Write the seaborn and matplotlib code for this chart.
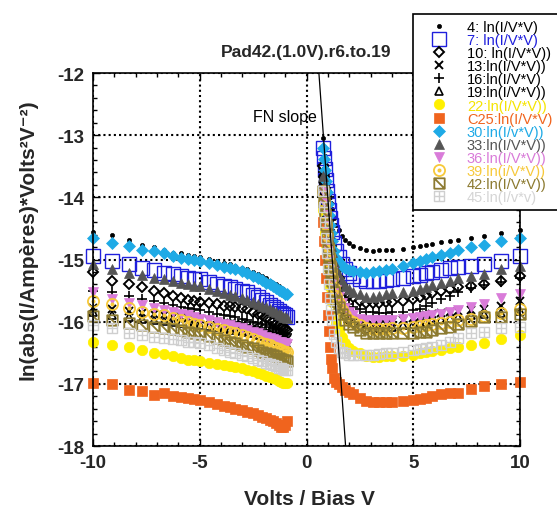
import matplotlib
matplotlib.use("Agg")
import matplotlib.pyplot as plt
from matplotlib.path import Path
from matplotlib.ticker import MultipleLocator
import seaborn as sns

# bias sweep (V), negative and positive branch
volts_neg = [-10.0, -9.09, -8.33, -7.69, -7.14, -6.67, -6.25, -5.88, -5.56, -5.26,
             -5.0, -4.55, -4.17, -3.85, -3.57, -3.33, -3.03, -2.78, -2.5, -2.27,
             -2.08, -1.89, -1.72, -1.56, -1.43, -1.3, -1.18, -1.08, -1.0, -0.91]
volts_pos = [0.75, 0.8, 0.85, 0.9, 0.95, 1.0, 1.05, 1.1, 1.15, 1.2, 1.3, 1.4, 1.5,
             1.65, 1.8, 2.0, 2.2, 2.5, 2.8, 3.1, 3.4, 3.7, 4.0, 4.5, 5.0, 5.3, 5.6,
             5.9, 6.3, 6.7, 7.1, 7.7, 8.3, 9.1, 10.0]

# ln(|I|/V^2) per run
s4_neg = [-14.55, -14.6, -14.68, -14.76, -14.8, -14.85, -14.89, -14.9, -14.92, -14.94,
          -14.96, -14.99, -15.02, -15.05, -15.08, -15.1, -15.13, -15.16, -15.2, -15.24,
          -15.27, -15.3, -15.34, -15.37, -15.4, -15.43, -15.46, -15.48, -15.5, -15.52]
s4_pos = [-13.05, -13.19, -13.34, -13.48, -13.63, -13.77, -13.90, -14.00, -14.09, -14.18,
          -14.33, -14.44, -14.53, -14.62, -14.69, -14.74, -14.78, -14.81, -14.85, -14.86,
          -14.85, -14.85, -14.84, -14.83, -14.80, -14.79, -14.77, -14.75, -14.72, -14.70,
          -14.68, -14.65, -14.62, -14.58, -14.52]

s7_neg = [-14.95, -15.03, -15.08, -15.13, -15.17, -15.21, -15.24, -15.27, -15.3, -15.31,
          -15.32, -15.36, -15.4, -15.43, -15.45, -15.47, -15.5, -15.53, -15.57, -15.61,
          -15.65, -15.69, -15.73, -15.77, -15.8, -15.83, -15.86, -15.88, -15.9, -15.92]
s7_pos = [-13.20, -13.37, -13.54, -13.72, -13.89, -14.06, -14.21, -14.34, -14.45, -14.55,
          -14.73, -14.86, -14.96, -15.07, -15.16, -15.22, -15.26, -15.31, -15.35, -15.35,
          -15.34, -15.33, -15.32, -15.30, -15.27, -15.25, -15.22, -15.20, -15.17, -15.14,
          -15.12, -15.10, -15.07, -15.03, -14.95]

s10_neg = [-15.2, -15.34, -15.39, -15.45, -15.5, -15.54, -15.58, -15.62, -15.65, -15.67,
           -15.68, -15.7, -15.72, -15.74, -15.75, -15.76, -15.78, -15.8, -15.84, -15.87,
           -15.9, -15.94, -15.97, -16.0, -16.03, -16.05, -16.08, -16.1, -16.12, -16.14]
s10_pos = [-13.50, -13.68, -13.85, -14.03, -14.20, -14.38, -14.53, -14.67, -14.78, -14.89,
           -15.06, -15.19, -15.30, -15.41, -15.50, -15.57, -15.61, -15.66, -15.70, -15.70,
           -15.70, -15.69, -15.68, -15.66, -15.63, -15.60, -15.57, -15.54, -15.50, -15.47,
           -15.45, -15.42, -15.39, -15.35, -15.27]

s13_neg = [-15.78, -15.8, -15.83, -15.86, -15.88, -15.9, -15.92, -15.93, -15.94, -15.95,
           -15.96, -15.98, -16.0, -16.02, -16.03, -16.04, -16.06, -16.08, -16.1, -16.12,
           -16.14, -16.16, -16.18, -16.2, -16.21, -16.23, -16.25, -16.26, -16.27, -16.28]
s13_pos = [-13.60, -13.80, -13.99, -14.19, -14.38, -14.58, -14.75, -14.90, -15.02, -15.14,
           -15.34, -15.49, -15.61, -15.73, -15.83, -15.90, -15.95, -16.00, -16.05, -16.06,
           -16.05, -16.03, -16.00, -15.97, -15.94, -15.92, -15.90, -15.88, -15.86, -15.84,
           -15.83, -15.81, -15.79, -15.74, -15.67]

s16_neg = [-15.5, -15.52, -15.58, -15.63, -15.67, -15.7, -15.73, -15.76, -15.78, -15.8,
           -15.82, -15.85, -15.87, -15.89, -15.91, -15.93, -15.95, -15.97, -16.0, -16.02,
           -16.04, -16.06, -16.08, -16.1, -16.12, -16.14, -16.16, -16.18, -16.19, -16.2]
s16_pos = [-13.60, -13.78, -13.96, -14.14, -14.32, -14.50, -14.66, -14.79, -14.91, -15.02,
           -15.20, -15.33, -15.45, -15.56, -15.65, -15.72, -15.76, -15.80, -15.84, -15.85,
           -15.86, -15.86, -15.85, -15.84, -15.82, -15.80, -15.75, -15.70, -15.64, -15.58,
           -15.52, -15.46, -15.41, -15.36, -15.30]

s19_neg = [-15.84, -15.89, -15.92, -15.95, -15.97, -15.99, -16.0, -16.02, -16.03, -16.04,
           -16.05, -16.07, -16.09, -16.1, -16.12, -16.13, -16.15, -16.17, -16.19, -16.21,
           -16.23, -16.25, -16.27, -16.29, -16.3, -16.32, -16.34, -16.35, -16.36, -16.37]
s19_pos = [-13.70, -13.89, -14.09, -14.28, -14.47, -14.67, -14.84, -14.98, -15.10, -15.22,
           -15.42, -15.56, -15.68, -15.81, -15.90, -15.97, -16.02, -16.07, -16.12, -16.12,
           -16.11, -16.10, -16.08, -16.06, -16.04, -16.02, -16.00, -15.98, -15.96, -15.94,
           -15.92, -15.90, -15.88, -15.86, -15.83]

s22_neg = [-16.32, -16.37, -16.41, -16.45, -16.5, -16.52, -16.56, -16.58, -16.61, -16.62,
           -16.63, -16.66, -16.68, -16.7, -16.72, -16.73, -16.75, -16.77, -16.8, -16.82,
           -16.84, -16.87, -16.89, -16.91, -16.93, -16.95, -16.97, -16.98, -16.99, -16.98]
s22_pos = [-14.20, -14.39, -14.58, -14.77, -14.96, -15.14, -15.31, -15.45, -15.57, -15.69,
           -15.88, -16.02, -16.14, -16.25, -16.35, -16.42, -16.47, -16.51, -16.56, -16.57,
           -16.57, -16.56, -16.56, -16.55, -16.53, -16.51, -16.49, -16.47, -16.45, -16.43,
           -16.41, -16.38, -16.34, -16.28, -16.22]

s25_neg = [-16.98, -17.01, -17.1, -17.11, -17.18, -17.15, -17.2, -17.21, -17.23, -17.25,
           -17.26, -17.3, -17.33, -17.36, -17.38, -17.4, -17.42, -17.45, -17.47, -17.5,
           -17.53, -17.55, -17.58, -17.6, -17.63, -17.66, -17.69, -17.7, -17.66, -17.6]
s25_pos = [-14.40, -14.70, -15.00, -15.30, -15.60, -15.90, -16.15, -16.40, -16.60, -16.75,
           -16.90, -16.97, -17.00, -17.05, -17.10, -17.13, -17.16, -17.22, -17.28, -17.30,
           -17.30, -17.30, -17.29, -17.28, -17.26, -17.24, -17.22, -17.20, -17.17, -17.15,
           -17.14, -17.08, -17.04, -17.00, -16.97]

s30_neg = [-14.65, -14.73, -14.79, -14.84, -14.87, -14.9, -14.94, -14.97, -14.99, -15.01,
           -15.03, -15.06, -15.09, -15.12, -15.14, -15.16, -15.19, -15.22, -15.26, -15.3,
           -15.33, -15.37, -15.4, -15.43, -15.46, -15.49, -15.51, -15.53, -15.55, -15.56]
s30_pos = [-13.20, -13.38, -13.56, -13.74, -13.92, -14.10, -14.28, -14.44, -14.58, -14.70,
           -14.86, -14.97, -15.04, -15.10, -15.14, -15.17, -15.19, -15.20, -15.21, -15.20,
           -15.19, -15.17, -15.15, -15.10, -15.05, -15.02, -14.99, -14.96, -14.93, -14.90,
           -14.85, -14.80, -14.76, -14.70, -14.66]

s33_neg = [-15.08, -15.16, -15.21, -15.25, -15.29, -15.32, -15.35, -15.38, -15.4, -15.42,
           -15.43, -15.47, -15.51, -15.54, -15.57, -15.59, -15.62, -15.65, -15.68, -15.71,
           -15.74, -15.77, -15.8, -15.83, -15.85, -15.88, -15.9, -15.92, -15.93, -15.94]
s33_pos = [-13.66, -13.82, -13.97, -14.13, -14.28, -14.44, -14.57, -14.69, -14.79, -14.88,
           -15.04, -15.15, -15.25, -15.35, -15.43, -15.48, -15.52, -15.56, -15.60, -15.60,
           -15.58, -15.56, -15.54, -15.52, -15.50, -15.47, -15.44, -15.41, -15.37, -15.34,
           -15.30, -15.26, -15.23, -15.16, -15.10]

s36_neg = [-15.53, -15.63, -15.7, -15.73, -15.78, -15.81, -15.84, -15.87, -15.89, -15.92,
           -15.95, -15.98, -16.01, -16.04, -16.06, -16.08, -16.1, -16.13, -16.16, -16.19,
           -16.21, -16.24, -16.26, -16.28, -16.3, -16.32, -16.33, -16.34, -16.35, -16.36]
s36_pos = [-13.90, -14.07, -14.23, -14.40, -14.56, -14.73, -14.87, -15.00, -15.10, -15.20,
           -15.37, -15.49, -15.60, -15.70, -15.78, -15.85, -15.90, -15.95, -15.97, -15.98,
           -15.98, -15.97, -15.97, -15.96, -15.94, -15.93, -15.91, -15.89, -15.87, -15.84,
           -15.82, -15.77, -15.72, -15.62, -15.56]

s39_neg = [-15.67, -15.72, -15.78, -15.84, -15.87, -15.9, -15.94, -15.97, -16.0, -16.03,
           -16.05, -16.08, -16.11, -16.14, -16.17, -16.19, -16.22, -16.25, -16.28, -16.31,
           -16.34, -16.36, -16.38, -16.4, -16.42, -16.44, -16.46, -16.47, -16.48, -16.49]
s39_pos = [-13.90, -14.08, -14.25, -14.43, -14.60, -14.78, -14.93, -15.07, -15.18, -15.29,
           -15.46, -15.59, -15.70, -15.81, -15.90, -15.97, -16.01, -16.06, -16.10, -16.11,
           -16.11, -16.11, -16.10, -16.10, -16.09, -16.07, -16.06, -16.04, -16.02, -16.00,
           -15.97, -15.95, -15.91, -15.86, -15.80]

s42_neg = [-15.91, -15.97, -16.02, -16.05, -16.08, -16.1, -16.12, -16.14, -16.16, -16.18,
           -16.2, -16.23, -16.26, -16.29, -16.32, -16.34, -16.37, -16.4, -16.43, -16.46,
           -16.48, -16.5, -16.52, -16.54, -16.56, -16.58, -16.6, -16.61, -16.62, -16.63]
s42_pos = [-13.90, -14.08, -14.26, -14.45, -14.63, -14.81, -14.97, -15.11, -15.22, -15.34,
           -15.52, -15.66, -15.77, -15.88, -15.97, -16.04, -16.09, -16.13, -16.18, -16.19,
           -16.19, -16.19, -16.19, -16.18, -16.18, -16.17, -16.16, -16.14, -16.10, -16.08,
           -16.03, -15.99, -15.93, -15.92, -15.88]

s45_neg = [-16.05, -16.1, -16.18, -16.21, -16.24, -16.26, -16.28, -16.3, -16.32, -16.33,
           -16.34, -16.38, -16.42, -16.45, -16.48, -16.5, -16.53, -16.56, -16.59, -16.62,
           -16.64, -16.66, -16.68, -16.7, -16.72, -16.74, -16.75, -16.76, -16.77, -16.78]
s45_pos = [-13.90, -14.15, -14.40, -14.65, -14.90, -15.15, -15.40, -15.62, -15.82, -15.98,
           -16.20, -16.33, -16.42, -16.48, -16.51, -16.53, -16.54, -16.54, -16.53, -16.53,
           -16.52, -16.51, -16.50, -16.48, -16.46, -16.44, -16.42, -16.40, -16.37, -16.33,
           -16.26, -16.19, -16.17, -16.10, -16.08]

labels = ["4: ln(I/V*V)", "7: ln(I/V*V)", "10: ln(I/V*V))", "13:ln(I/V*V))",
          "16:ln(I/V*V)", "19:ln(I/V*V))", "22:ln(I/V*V))", "C25:ln(I/V*V)",
          "30:ln(I/v*V))", "33:ln(I/V*V))", "36:ln(I/V*V))", "39:ln(i/V*V))",
          "42:ln(I/V*V))", "45:ln(I/v*v)"]
neg_vals = [s4_neg, s7_neg, s10_neg, s13_neg, s16_neg, s19_neg, s22_neg, s25_neg,
            s30_neg, s33_neg, s36_neg, s39_neg, s42_neg, s45_neg]
pos_vals = [s4_pos, s7_pos, s10_pos, s13_pos, s16_pos, s19_pos, s22_pos, s25_pos,
            s30_pos, s33_pos, s36_pos, s39_pos, s42_pos, s45_pos]

# FN slope guide line
fn_x = [0.58, 1.83]
fn_y = [-12.0, -18.0]

# custom markers
circ_dot = Path.make_compound_path(Path.unit_circle(), Path.circle((0, 0), 0.2))
box_diag = Path([(-1, -1), (1, -1), (1, 1), (-1, 1), (-1, -1), (-1, 1), (1, -1)],
                [Path.MOVETO, Path.LINETO, Path.LINETO, Path.LINETO, Path.CLOSEPOLY,
                 Path.MOVETO, Path.LINETO])
box_plus = Path([(-1, -1), (1, -1), (1, 1), (-1, 1), (-1, -1), (-1, 0), (1, 0), (0, -1), (0, 1)],
                [Path.MOVETO, Path.LINETO, Path.LINETO, Path.LINETO, Path.CLOSEPOLY,
                 Path.MOVETO, Path.LINETO, Path.MOVETO, Path.LINETO])

text_colors = ["black", "#1f1fdc", "black", "black", "black", "black", "#f5e400",
               "#f0641e", "#1eaae6", "#555555", "#d97bd9", "#f7c93a", "#8c7a30", "#d5d5d5"]
styles = [
    dict(marker="o", ms=3, mfc="black", mec="black", mew=0.5),
    dict(marker="s", ms=9.5, mfc="none", mec="#1f1fdc", mew=1.0),
    dict(marker="D", ms=5, mfc="none", mec="black", mew=1.4),
    dict(marker="x", ms=6, mec="black", mew=1.4),
    dict(marker="+", ms=7, mec="black", mew=1.2),
    dict(marker="^", ms=6, mfc="none", mec="black", mew=1.2),
    dict(marker="o", ms=7.5, mfc="#fff000", mec="#fff000", mew=0.5),
    dict(marker="s", ms=6.5, mfc="#f0641e", mec="#f0641e", mew=0.5),
    dict(marker="D", ms=6, mfc="#1eaae6", mec="#1eaae6", mew=0.5),
    dict(marker="^", ms=7.5, mfc="#555555", mec="#555555", mew=0.5),
    dict(marker="v", ms=7.5, mfc="#d97bd9", mec="#d97bd9", mew=0.5),
    dict(marker=circ_dot, ms=8, mfc="none", mec="#f7c93a", mew=1.3),
    dict(marker=box_diag, ms=7.5, mfc="none", mec="#8c7a30", mew=1.3),
    dict(marker=box_plus, ms=7.5, mfc="none", mec="#cfcfcf", mew=1.0),
]

sns.set_theme(style="ticks")
plt.rcParams["font.family"] = ["Liberation Sans", "DejaVu Sans"]
plt.rcParams["axes.unicode_minus"] = False

fig = plt.figure(figsize=(5.57, 5.10), dpi=100)
ax = fig.add_axes([0.167, 0.1235, 0.7666, 0.7314])

for label, yn, yp, st in zip(labels, neg_vals, pos_vals, styles):
    sns.lineplot(x=volts_neg + volts_pos, y=yn + yp, ax=ax, label=label,
                 linestyle="", estimator=None, sort=False, clip_on=False, **st)

handles, hlabels = ax.get_legend_handles_labels()

sns.lineplot(x=fn_x, y=fn_y, ax=ax, color="black", lw=0.9, estimator=None, sort=False)

ax.set_xlim(-10, 10)
ax.set_ylim(-18, -12)
ax.xaxis.set_major_locator(MultipleLocator(5))
ax.xaxis.set_minor_locator(MultipleLocator(1))
ax.yaxis.set_major_locator(MultipleLocator(1))
ax.yaxis.set_minor_locator(MultipleLocator(0.2))
ax.tick_params(which="both", direction="in", top=True, right=True, width=1.0,
               color="black", labelsize=13.5, pad=6)
ax.tick_params(which="major", length=5)
ax.tick_params(which="minor", length=3)
for t in ax.get_xticklabels() + ax.get_yticklabels():
    t.set_fontweight("bold")
for sp in ax.spines.values():
    sp.set_linewidth(1.2)
    sp.set_color("black")

ax.grid(True, which="major", color="black", linestyle=(0, (1, 1.5)), lw=1.5)
ax.set_axisbelow(True)

ax.set_title("Pad42.(1.0V).r6.to.19", fontsize=12.5, fontweight="bold", pad=12)
ax.set_xlabel("Volts / Bias V", fontsize=15, fontweight="bold")
ax.xaxis.set_label_coords(0.508, -0.115)
ax.set_ylabel("ln(abs(I/Ampères)*Volts²V⁻²)", fontsize=15, fontweight="bold")
ax.yaxis.set_label_coords(-0.129, 0.555)
ax.text(-2.5, -12.77, "FN slope", fontsize=11.5, color="black")

leg = ax.legend(handles, hlabels, loc="upper left", bbox_to_anchor=(413 / 557, 1 - 15 / 510),
                bbox_transform=fig.transFigure, borderaxespad=0, fontsize=10.5,
                labelcolor=text_colors, frameon=True, fancybox=False, framealpha=1,
                edgecolor="black", labelspacing=-0.06, handlelength=2.8, handletextpad=0.5,
                borderpad=0.4)
leg.get_frame().set_linewidth(1.2)

fig.savefig("out.png", dpi=100)
